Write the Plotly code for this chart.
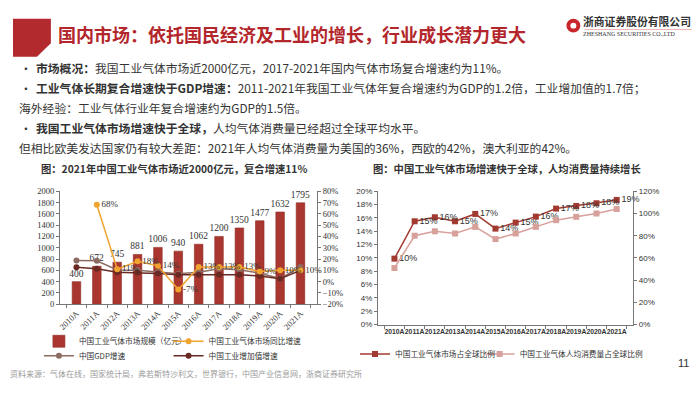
import plotly.graph_objects as go

# The page adds an 8px body margin, so the figure is laid out in page coordinates shifted by OFF.
OFF = 8
W, H = 700 - OFF, 393 - OFF
def px(x): return (x - OFF) / W
def py(y): return 1 - (y - OFF) / H

# ---------------- data ----------------
years = ["2010A", "2011A", "2012A", "2013A", "2014A", "2015A",
         "2016A", "2017A", "2018A", "2019A", "2020A", "2021A"]

market_size = [400, 672, 745, 881, 1006, 940, 1062, 1200, 1350, 1477, 1632, 1795]
market_growth = [None, 0.68, 0.11, 0.18, 0.14, -0.07, 0.13, 0.13, 0.13, 0.09, 0.10, 0.10]
market_growth_labels = ["", "68%", "11%", "18%", "14%", "-7%", "13%", "13%", "13%", "9%", "10%", "10%"]
gdp_growth = [0.187, 0.185, 0.104, 0.100, 0.085, 0.070, 0.084, 0.115, 0.105, 0.075, 0.027, 0.130]
industry_growth = [0.127, 0.115, 0.083, 0.080, 0.073, 0.062, 0.060, 0.062, 0.061, 0.050, 0.025, 0.100]

share_market = [0.099, 0.155, 0.161, 0.155, 0.166, 0.144, 0.153, 0.162, 0.174, 0.178, 0.182, 0.187]
share_market_labels = ["10%", "15%", "16%", "15%", "17%", "14%", "15%", "16%", "17%", "18%", "18%", "19%"]
share_percapita = [0.51, 0.80, 0.84, 0.82, 0.88, 0.77, 0.82, 0.88, 0.94, 0.97, 1.00, 1.04]

# ---------------- styles ----------------
RED = "#A9372F"
ORANGE = "#F0A32E"
GDP_C = "#8C6C62"
IND_C = "#6A2A24"
DARK = "#A23A31"
PINK = "#D7A09A"
SERIF = "Liberation Serif"
CJK = "Noto Sans CJK SC"
SANS = "Liberation Sans"

fig = go.Figure()

# Left chart
fig.add_trace(go.Bar(
    x=years, y=market_size, name="中国工业气体市场规模（亿元）",
    marker=dict(color=RED, line=dict(color="#8E2A24", width=0.6)),
    text=[str(v) for v in market_size], textposition="outside", constraintext="none",
    textfont=dict(family=SERIF, size=9.5, color="#333"),
    cliponaxis=False, width=0.42, xaxis="x", yaxis="y", legend="legend", showlegend=True))
fig.add_trace(go.Scatter(
    x=years, y=gdp_growth, name="中国GDP增速", mode="lines+markers",
    line=dict(color=GDP_C, width=1.5), marker=dict(color=GDP_C, size=6),
    xaxis="x", yaxis="y2", legend="legend2", cliponaxis=False))
fig.add_trace(go.Scatter(
    x=years, y=industry_growth, name="中国工业增加值增速", mode="lines+markers",
    line=dict(color=IND_C, width=1.5), marker=dict(color=IND_C, size=6),
    xaxis="x", yaxis="y2", legend="legend5", cliponaxis=False))
fig.add_trace(go.Scatter(
    x=years, y=market_growth, name="中国工业气体市场同比增速", mode="lines+markers+text",
    line=dict(color=ORANGE, width=1.5), marker=dict(color=ORANGE, size=6),
    text=market_growth_labels, textposition="middle right",
    textfont=dict(family=SERIF, size=9, color="#333"),
    xaxis="x", yaxis="y2", legend="legend4", cliponaxis=False))

# Right chart
fig.add_trace(go.Scatter(
    x=years, y=share_percapita, name="中国工业气体人均消费量占全球比例", mode="lines+markers",
    line=dict(color=PINK, width=1.5), marker=dict(color=PINK, size=6, symbol="square"),
    xaxis="x3", yaxis="y4", legend="legend6", cliponaxis=False))
fig.add_trace(go.Scatter(
    x=years, y=share_market, name="中国工业气体市场占全球比例", mode="lines+markers+text",
    line=dict(color=DARK, width=1.5), marker=dict(color=DARK, size=6, symbol="square"),
    text=share_market_labels, textposition="middle right",
    textfont=dict(family=SANS, size=9, color="#333"),
    xaxis="x3", yaxis="y3", legend="legend3", cliponaxis=False))

axis_common = dict(showline=True, linecolor="#777", linewidth=1, ticks="outside",
                   ticklen=3, tickcolor="#777", showgrid=False, zeroline=False)
leg_common = dict(xanchor="left", yanchor="middle", orientation="h",
                  font=dict(family=CJK, size=7.7, color="#333"),
                  bgcolor="rgba(0,0,0,0)", itemwidth=30)

def leg(x, y):
    return dict(x=px(x), y=py(y + 3), **leg_common)

fig.update_layout(
    width=W, height=H, margin=dict(l=0, r=0, t=0, b=0),
    paper_bgcolor="white", plot_bgcolor="rgba(0,0,0,0)", showlegend=True,
    xaxis=dict(domain=[px(58), px(316)], type="category", tickangle=-45,
               tickson="boundaries", anchor="y",
               tickfont=dict(family=SERIF, size=8.5, color="#333"), **axis_common),
    yaxis=dict(domain=[py(307), py(191)], range=[0, 2000], dtick=200, anchor="x",
               tickfont=dict(family=SERIF, size=8.5, color="#333"), **axis_common),
    yaxis2=dict(domain=[py(307), py(191)], range=[-0.2, 0.8], dtick=0.1, tickformat=".0%",
                overlaying="y", side="right", anchor="x",
                tickfont=dict(family=SERIF, size=8.5, color="#333"), **axis_common),
    xaxis3=dict(domain=[px(377), px(633)], type="category", tickangle=0,
                tickson="boundaries", anchor="y3",
                tickfont=dict(family=SANS, size=6.8, color="#333", weight="bold"), **axis_common),
    yaxis3=dict(domain=[py(328), py(191)], range=[0, 0.2], dtick=0.02, tickformat=".0%",
                anchor="x3", tickfont=dict(family=SANS, size=8, color="#333"), **axis_common),
    yaxis4=dict(domain=[py(328), py(191)], range=[0, 1.2], dtick=0.2, tickformat=".0%",
                overlaying="y3", side="right", anchor="x3",
                tickfont=dict(family=SANS, size=8, color="#333"), **axis_common),
    legend=leg(37, 342),
    legend4=leg(167, 342),
    legend2=leg(37, 357),
    legend5=leg(167, 357),
    legend3=leg(354, 355),
    legend6=leg(479, 355),
)

# ---------------- header & texts ----------------
shapes = [
    dict(type="path", xref="paper", yref="paper",
         path=f"M {px(11)} {py(14)} L {px(49)} {py(14)} L {px(49)} {py(39)} L {px(35)} {py(53)} L {px(11)} {py(53)} Z",
         fillcolor="#B22A2E", line=dict(width=0)),
    dict(type="circle", xref="paper", yref="paper",
         x0=px(566), x1=px(580), y0=py(28), y1=py(14), fillcolor="#C8262C", line=dict(width=0)),
    dict(type="circle", xref="paper", yref="paper",
         x0=px(570), x1=px(576), y0=py(24), y1=py(18), fillcolor="white", line=dict(width=0)),
    dict(type="line", xref="paper", yref="paper",
         x0=px(584), x1=px(699), y0=py(25), y1=py(25), line=dict(color="#E8A0A0", width=0.8)),
]

ann = []
DY = -3  # correction for CJK line box centering
def text(x, y, s, size, color="#333", family=CJK, xanchor="left", yanchor="middle", dy=DY):
    ann.append(dict(x=px(x), y=py(y + dy), xref="paper", yref="paper", text=s, showarrow=False,
                    xanchor=xanchor, yanchor=yanchor, align="left",
                    font=dict(family=family, size=size, color=color)))

text(54, 33, "<b>国内市场：依托国民经济及工业的增长，行业成长潜力更大</b>", 18, color="#B3262B")
text(581, 19, "<b>浙商证券股份有限公司</b>", 10.8, color="#333")
text(581, 31, "ZHESHANG SECURITIES CO.,LTD", 6, color="#333", family=SERIF, dy=-1)

body = 11.8
text(16, 67, "•", body)
text(32, 67, "<b>市场概况：</b>我国工业气体市场近2000亿元，2017-2021年国内气体市场复合增速约为11%。", body)
text(16, 88, "•", body)
text(32, 88, "<b>工业气体长期复合增速快于GDP增速：</b>2011-2021年我国工业气体年复合增速约为GDP的1.2倍，工业增加值的1.7倍；", body)
text(15, 108, "海外经验：工业气体行业年复合增速约为GDP的1.5倍。", body)
text(16, 129, "•", body)
text(32, 129, "<b>我国工业气体市场增速快于全球，</b>人均气体消费量已经超过全球平均水平。", body)
text(15, 149, "但相比欧美发达国家仍有较大差距：2021年人均气体消费量为美国的36%，西欧的42%，澳大利亚的42%。", body)

text(172, 171, "<b>图：2021年中国工业气体市场近2000亿元，复合增速11%</b>", 10.3, xanchor="center")
text(506, 171, "<b>图：中国工业气体市场增速快于全球，人均消费量持续增长</b>", 10.3, xanchor="center")

text(6, 381, "资料来源：气体在线，国家统计局，弗若斯特沙利文，世界银行，中国产业信息网，浙商证券研究所", 8, color="#9a9a9a")
text(683, 367, "11", 11, color="#333", family=SANS, xanchor="center", dy=0)

fig.update_layout(shapes=shapes, annotations=ann)
fig.write_html("out.html")
